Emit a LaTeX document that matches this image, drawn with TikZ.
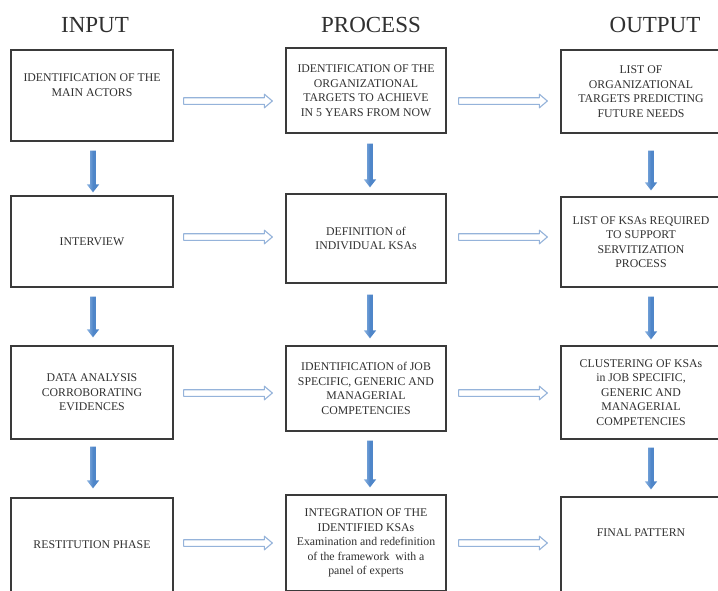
\documentclass[tikz,border=0pt]{standalone}
\usepackage{fontspec}
\setmainfont{Liberation Serif}
\usetikzlibrary{calc}
\definecolor{txt}{HTML}{303030}
\definecolor{boxline}{HTML}{3A3A3A}
\definecolor{harrowline}{HTML}{95B3DA}
\definecolor{darrowfill}{HTML}{4F86C9}
\definecolor{darrowlight}{HTML}{8DB4E2}
\tikzset{
  box/.style={draw=boxline, line width=1.3pt, fill=white, align=center,
    text=txt, font=\fontsize{11.8}{14.5}\selectfont, inner sep=2pt},
  header/.style={text=txt, font=\fontsize{23}{25}\selectfont, inner sep=0pt},
  hollowarrow/.style={draw=harrowline, line width=1.1pt, fill=white, line join=round,
    to path={let \p1=(\tikztostart), \p2=(\tikztotarget) in
      (\x1,\y1+3.3pt) -- (\x2-8pt,\y1+3.3pt) -- (\x2-8pt,\y1+6.8pt) -- (\x2,\y1)
      -- (\x2-8pt,\y1-6.8pt) -- (\x2-8pt,\y1-3.3pt) -- (\x1,\y1-3.3pt) -- cycle}},
  downarrow/.style={draw=none, left color=darrowlight, right color=darrowfill, middle color=darrowfill,
    to path={let \p1=(\tikztostart), \p2=(\tikztotarget) in
      (\x1-2.8pt,\y1) -- (\x1-2.8pt,\y2+8pt) -- (\x1-6.2pt,\y2+8pt) -- (\x1,\y2)
      -- (\x1+6.2pt,\y2+8pt) -- (\x1+2.8pt,\y2+8pt) -- (\x1+2.8pt,\y1) -- cycle}}
}
\begin{document}
\begin{tikzpicture}[x=1pt, y=-1pt]
\useasboundingbox (0,0) rectangle (718,590);
\fill[white] (0,0) rectangle (718,590);
\clip (0,0) rectangle (718,590);

% headers
\node[header] (hin) at (95,25) {INPUT};
\node[header] (hpr) at (371,25) {PROCESS};
\node[header] (hout) at (655,25) {OUTPUT};

% input column
\node[box, minimum width=162pt, minimum height=91pt] (i1) at (92,95.5)
  {IDENTIFICATION OF THE\\MAIN ACTORS\\[6pt]};
\node[box, minimum width=162pt, minimum height=91pt] (i2) at (92,241.5)
  {INTERVIEW};
\node[box, minimum width=162pt, minimum height=93pt] (i3) at (92,392.5)
  {DATA ANALYSIS\\CORROBORATING\\EVIDENCES};
\node[box, minimum width=162pt, minimum height=94pt] (i4) at (92,545)
  {RESTITUTION PHASE};

% process column
\node[box, minimum width=160pt, minimum height=85pt] (p1) at (366,90.5)
  {IDENTIFICATION OF THE\\ORGANIZATIONAL\\TARGETS TO ACHIEVE\\IN 5 YEARS FROM NOW};
\node[box, minimum width=160pt, minimum height=89pt] (p2) at (366,238.5)
  {DEFINITION of\\INDIVIDUAL KSAs};
\node[box, minimum width=160pt, minimum height=85pt] (p3) at (366,388.5)
  {IDENTIFICATION of JOB\\SPECIFIC, GENERIC AND\\MANAGERIAL\\COMPETENCIES};
\node[box, minimum width=160pt, minimum height=96pt] (p4) at (366,543)
  {INTEGRATION OF THE\\IDENTIFIED KSAs\\Examination and redefinition\\of the framework~ with a\\panel of experts};

% output column
\node[box, minimum width=160pt, minimum height=83pt] (o1) at (641,91.5)
  {LIST OF\\ORGANIZATIONAL\\TARGETS PREDICTING\\FUTURE NEEDS};
\node[box, minimum width=160pt, minimum height=90pt] (o2) at (641,242)
  {LIST OF KSAs REQUIRED\\TO SUPPORT\\SERVITIZATION\\PROCESS};
\node[box, minimum width=160pt, minimum height=93pt] (o3) at (641,392.5)
  {CLUSTERING OF KSAs\\in JOB SPECIFIC,\\GENERIC AND\\MANAGERIAL\\COMPETENCIES};
\node[box, minimum width=160pt, minimum height=95pt] (o4) at (641,544.5)
  {FINAL PATTERN\\[10pt]};

% hollow horizontal arrows
\draw[hollowarrow] ([xshift=10pt,yshift=-5.5pt]i1.east) to ([xshift=-13pt]p1.west);
\draw[hollowarrow] ([xshift=12pt,yshift=-10.5pt]p1.east) to ([xshift=-13pt]o1.west);
\draw[hollowarrow] ([xshift=10pt,yshift=4.5pt]i2.east) to ([xshift=-13pt]p2.west);
\draw[hollowarrow] ([xshift=12pt,yshift=1.5pt]p2.east) to ([xshift=-13pt]o2.west);
\draw[hollowarrow] ([xshift=10pt,yshift=-0.5pt]i3.east) to ([xshift=-13pt]p3.west);
\draw[hollowarrow] ([xshift=12pt,yshift=-4.5pt]p3.east) to ([xshift=-13pt]o3.west);
\draw[hollowarrow] ([xshift=10pt,yshift=2pt]i4.east) to ([xshift=-13pt]p4.west);
\draw[hollowarrow] ([xshift=12pt,yshift=0pt]p4.east) to ([xshift=-13pt]o4.west);

% blue down arrows
\path[downarrow] ([xshift=1pt,yshift=-9pt]i1.south) to ([xshift=1pt,yshift=3pt]i2.north);
\path[downarrow] ([xshift=1pt,yshift=-9pt]i2.south) to ([xshift=1pt,yshift=8pt]i3.north);
\path[downarrow] ([xshift=1pt,yshift=-7pt]i3.south) to ([xshift=1pt,yshift=9pt]i4.north);
\path[downarrow] ([xshift=4pt,yshift=-10pt]p1.south) to ([xshift=4pt,yshift=6pt]p2.north);
\path[downarrow] ([xshift=4pt,yshift=-11pt]p2.south) to ([xshift=4pt,yshift=7pt]p3.north);
\path[downarrow] ([xshift=4pt,yshift=-9pt]p3.south) to ([xshift=4pt,yshift=7pt]p4.north);
\path[downarrow] ([xshift=10pt,yshift=-17pt]o1.south) to ([xshift=10pt,yshift=6pt]o2.north);
\path[downarrow] ([xshift=10pt,yshift=-9pt]o2.south) to ([xshift=10pt,yshift=6pt]o3.north);
\path[downarrow] ([xshift=10pt,yshift=-8pt]o3.south) to ([xshift=10pt,yshift=7pt]o4.north);
\end{tikzpicture}
\end{document}
